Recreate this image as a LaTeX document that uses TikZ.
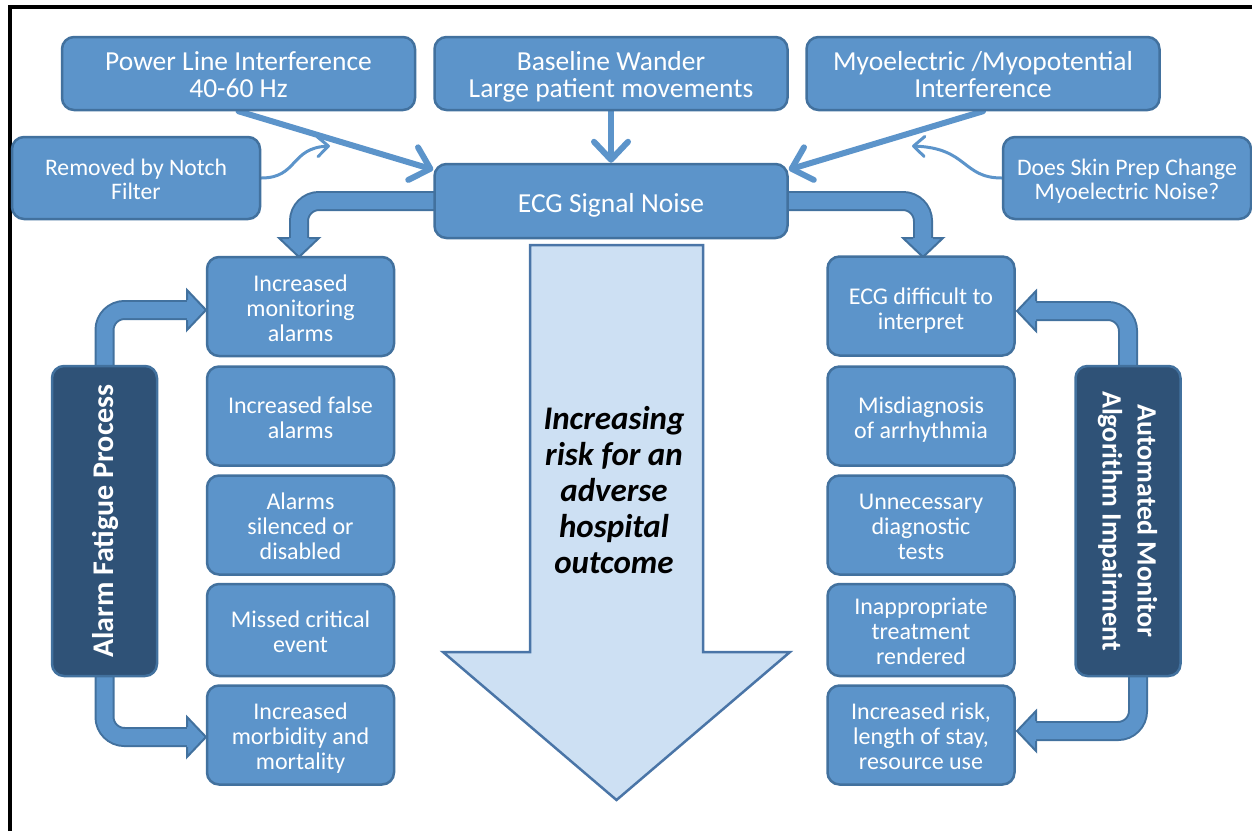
\documentclass[tikz,border=0pt]{standalone}
\usepackage{fontspec}
\setmainfont{Carlito}
\usetikzlibrary{arrows.meta}
\pgfdeclarelayer{back}
\pgfsetlayers{back,main}
\definecolor{boxfill}{RGB}{92,148,202}
\definecolor{boxline}{RGB}{66,113,158}
\definecolor{darkfill}{RGB}{47,82,119}
\definecolor{riskfill}{RGB}{205,224,243}
\definecolor{riskline}{RGB}{74,117,167}
% line struts: the first line gets extra height so the block sits a little low
\def\boxdrop{4pt}
\newcommand\topstr{\rule{0pt}{\dimexpr0.7\baselineskip+\boxdrop\relax}}
\newcommand\botstr{\rule[-0.3\baselineskip]{0pt}{0.3\baselineskip}}
\tikzset{
  textdrop/.code={\def\boxdrop{#1}},
  box/.style={draw=boxline, fill=boxfill, line width=2.5pt, rounded corners=12pt,
    text=white, align=center, inner sep=0pt},
  topbox/.style={box, minimum width=353pt, minimum height=73pt, textdrop=11pt,
    font=\fontsize{27.5}{27}\selectfont},
  notebox/.style={box, minimum width=248pt, minimum height=82pt, textdrop=8.5pt,
    font=\fontsize{23.7}{24}\selectfont},
  colbox/.style={box, minimum width=187pt, minimum height=99pt, textdrop=9.5pt,
    font=\fontsize{24}{25}\selectfont},
  sidebox/.style={box, fill=darkfill, minimum width=310pt, minimum height=105pt,
    textdrop=4pt, font=\bfseries\fontsize{30}{35}\selectfont},
  feed/.style={draw=boxfill, line width=6pt, line cap=round,
    -{Straight Barb[length=18pt,width=34pt,round]}},
  note/.style={draw=boxfill, line width=3pt, line cap=round,
    -{Straight Barb[length=11pt,width=20pt,round]}},
  shaft/.style={draw=boxline, line width=2pt, double=boxfill,
    double distance=16pt, rounded corners=20pt},
  bhead/.pic={\filldraw[fill=boxfill, draw=boxline, line width=2pt, line join=miter]
    (-10,0) -- (-20,0) -- (0,19) -- (20,0) -- (10,0);},
}
\begin{document}
\begin{tikzpicture}[x=1pt,y=-1pt]
\useasboundingbox (0,0) rectangle (1252,831);
% frame
\draw[line width=4pt] (10,831) -- (10,7) -- (1252,7);

% noise sources
\node[topbox] (pl) at (238.5,73.5) {\topstr Power Line Interference\\40-60 Hz\botstr};
\node[topbox] (bw) at (611,73.5) {\topstr Baseline Wander\\Large patient movements\botstr};
\node[topbox] (my) at (983,73.5) {\topstr Myoelectric /Myopotential\\Interference\botstr};
\node[notebox] (notch) at (136,178) {\topstr Removed by Notch\\Filter\botstr};
\node[notebox] (skin) at (1127,178) {\topstr Does Skin Prep Change\\Myoelectric Noise?\botstr};
\node[topbox, minimum height=74pt, textdrop=12pt] (ecg) at (611,201) {\topstr ECG Signal Noise\botstr};

% left column
\node[colbox] (l1) at (300.5,306.5) {\topstr Increased\\monitoring\\alarms\botstr};
\node[colbox] (l2) at (300.5,416) {\topstr Increased false\\alarms\botstr};
\node[colbox] (l3) at (300.5,525) {\topstr Alarms\\silenced or\\disabled\botstr};
\node[colbox, minimum height=92pt] (l4) at (300.5,630) {\topstr Missed critical\\event\botstr};
\node[colbox] (l5) at (300.5,735) {\topstr Increased\\morbidity and\\mortality\botstr};

% right column
\node[colbox, textdrop=12pt] (r1) at (921,306) {\topstr ECG difficult to\\interpret\botstr};
\node[colbox] (r2) at (921,416) {\topstr Misdiagnosis\\of arrhythmia\botstr};
\node[colbox] (r3) at (921,525) {\topstr Unnecessary\\diagnostic\\tests\botstr};
\node[colbox, minimum height=92pt] (r4) at (921,630) {\topstr Inappropriate\\treatment\\rendered\botstr};
\node[colbox] (r5) at (921,735) {\topstr Increased risk,\\length of stay,\\resource use\botstr};

% side processes
\node[sidebox, rotate=90] (afp) at (104.5,521) {\topstr Alarm Fatigue Process\botstr};
\node[sidebox, rotate=-90, textdrop=2pt, font=\bfseries\fontsize{28}{35}\selectfont] (ama) at (1128,521)
  {\topstr Automated Monitor\\Algorithm Impairment\botstr};

% central risk arrow
\filldraw[fill=riskfill, draw=riskline, line width=2.5pt, line join=miter]
  (530,245) -- (703,245) -- (703,652) -- (790,652) -- (616.5,800) -- (443,652) -- (530,652) -- cycle;
\node[font=\bfseries\itshape\fontsize{33}{36}\selectfont, align=center] (risk) at (614,490)
  {Increasing\\risk for an\\adverse\\hospital\\outcome};

\begin{pgfonlayer}{back}
  % sources feeding the noise box
  \draw[feed] (pl.south) -- (ecg.170);
  \draw[feed] (bw.south) -- (ecg.north);
  \draw[feed] (my.south) -- (ecg.10);
  % remarks
  \coordinate (notchend) at (330,146);
  \coordinate (skinend) at (912,146);
  \draw[note] (notch.east) .. controls (298,178) and (290,148) .. (notchend);
  \draw[note] (skin.west) .. controls (962,178) and (968,148) .. (skinend);
  % bent block arrows
  \coordinate (hl) at (299,238);
  \coordinate (hr) at (923,238);
  \draw[shaft] (ecg.center) -| (hl);
  \draw[shaft] (ecg.center) -| (hr);
  \pic at (hl) {bhead};
  \pic at (hr) {bhead};
  \coordinate (ha1) at (187,310);
  \coordinate (ha5) at (187,737);
  \draw[shaft] (afp.center) |- (ha1);
  \draw[shaft] (afp.center) |- (ha5);
  \pic[rotate=90] at (ha1) {bhead};
  \pic[rotate=90] at (ha5) {bhead};
  \coordinate (hm1) at (1036,311);
  \coordinate (hm5) at (1036,731);
  \draw[shaft] (ama.center) |- (hm1);
  \draw[shaft] ([xshift=10pt]ama.center) |- (hm5);
  \pic[rotate=-90] at (hm1) {bhead};
  \pic[rotate=-90] at (hm5) {bhead};
\end{pgfonlayer}
\end{tikzpicture}
\end{document}
